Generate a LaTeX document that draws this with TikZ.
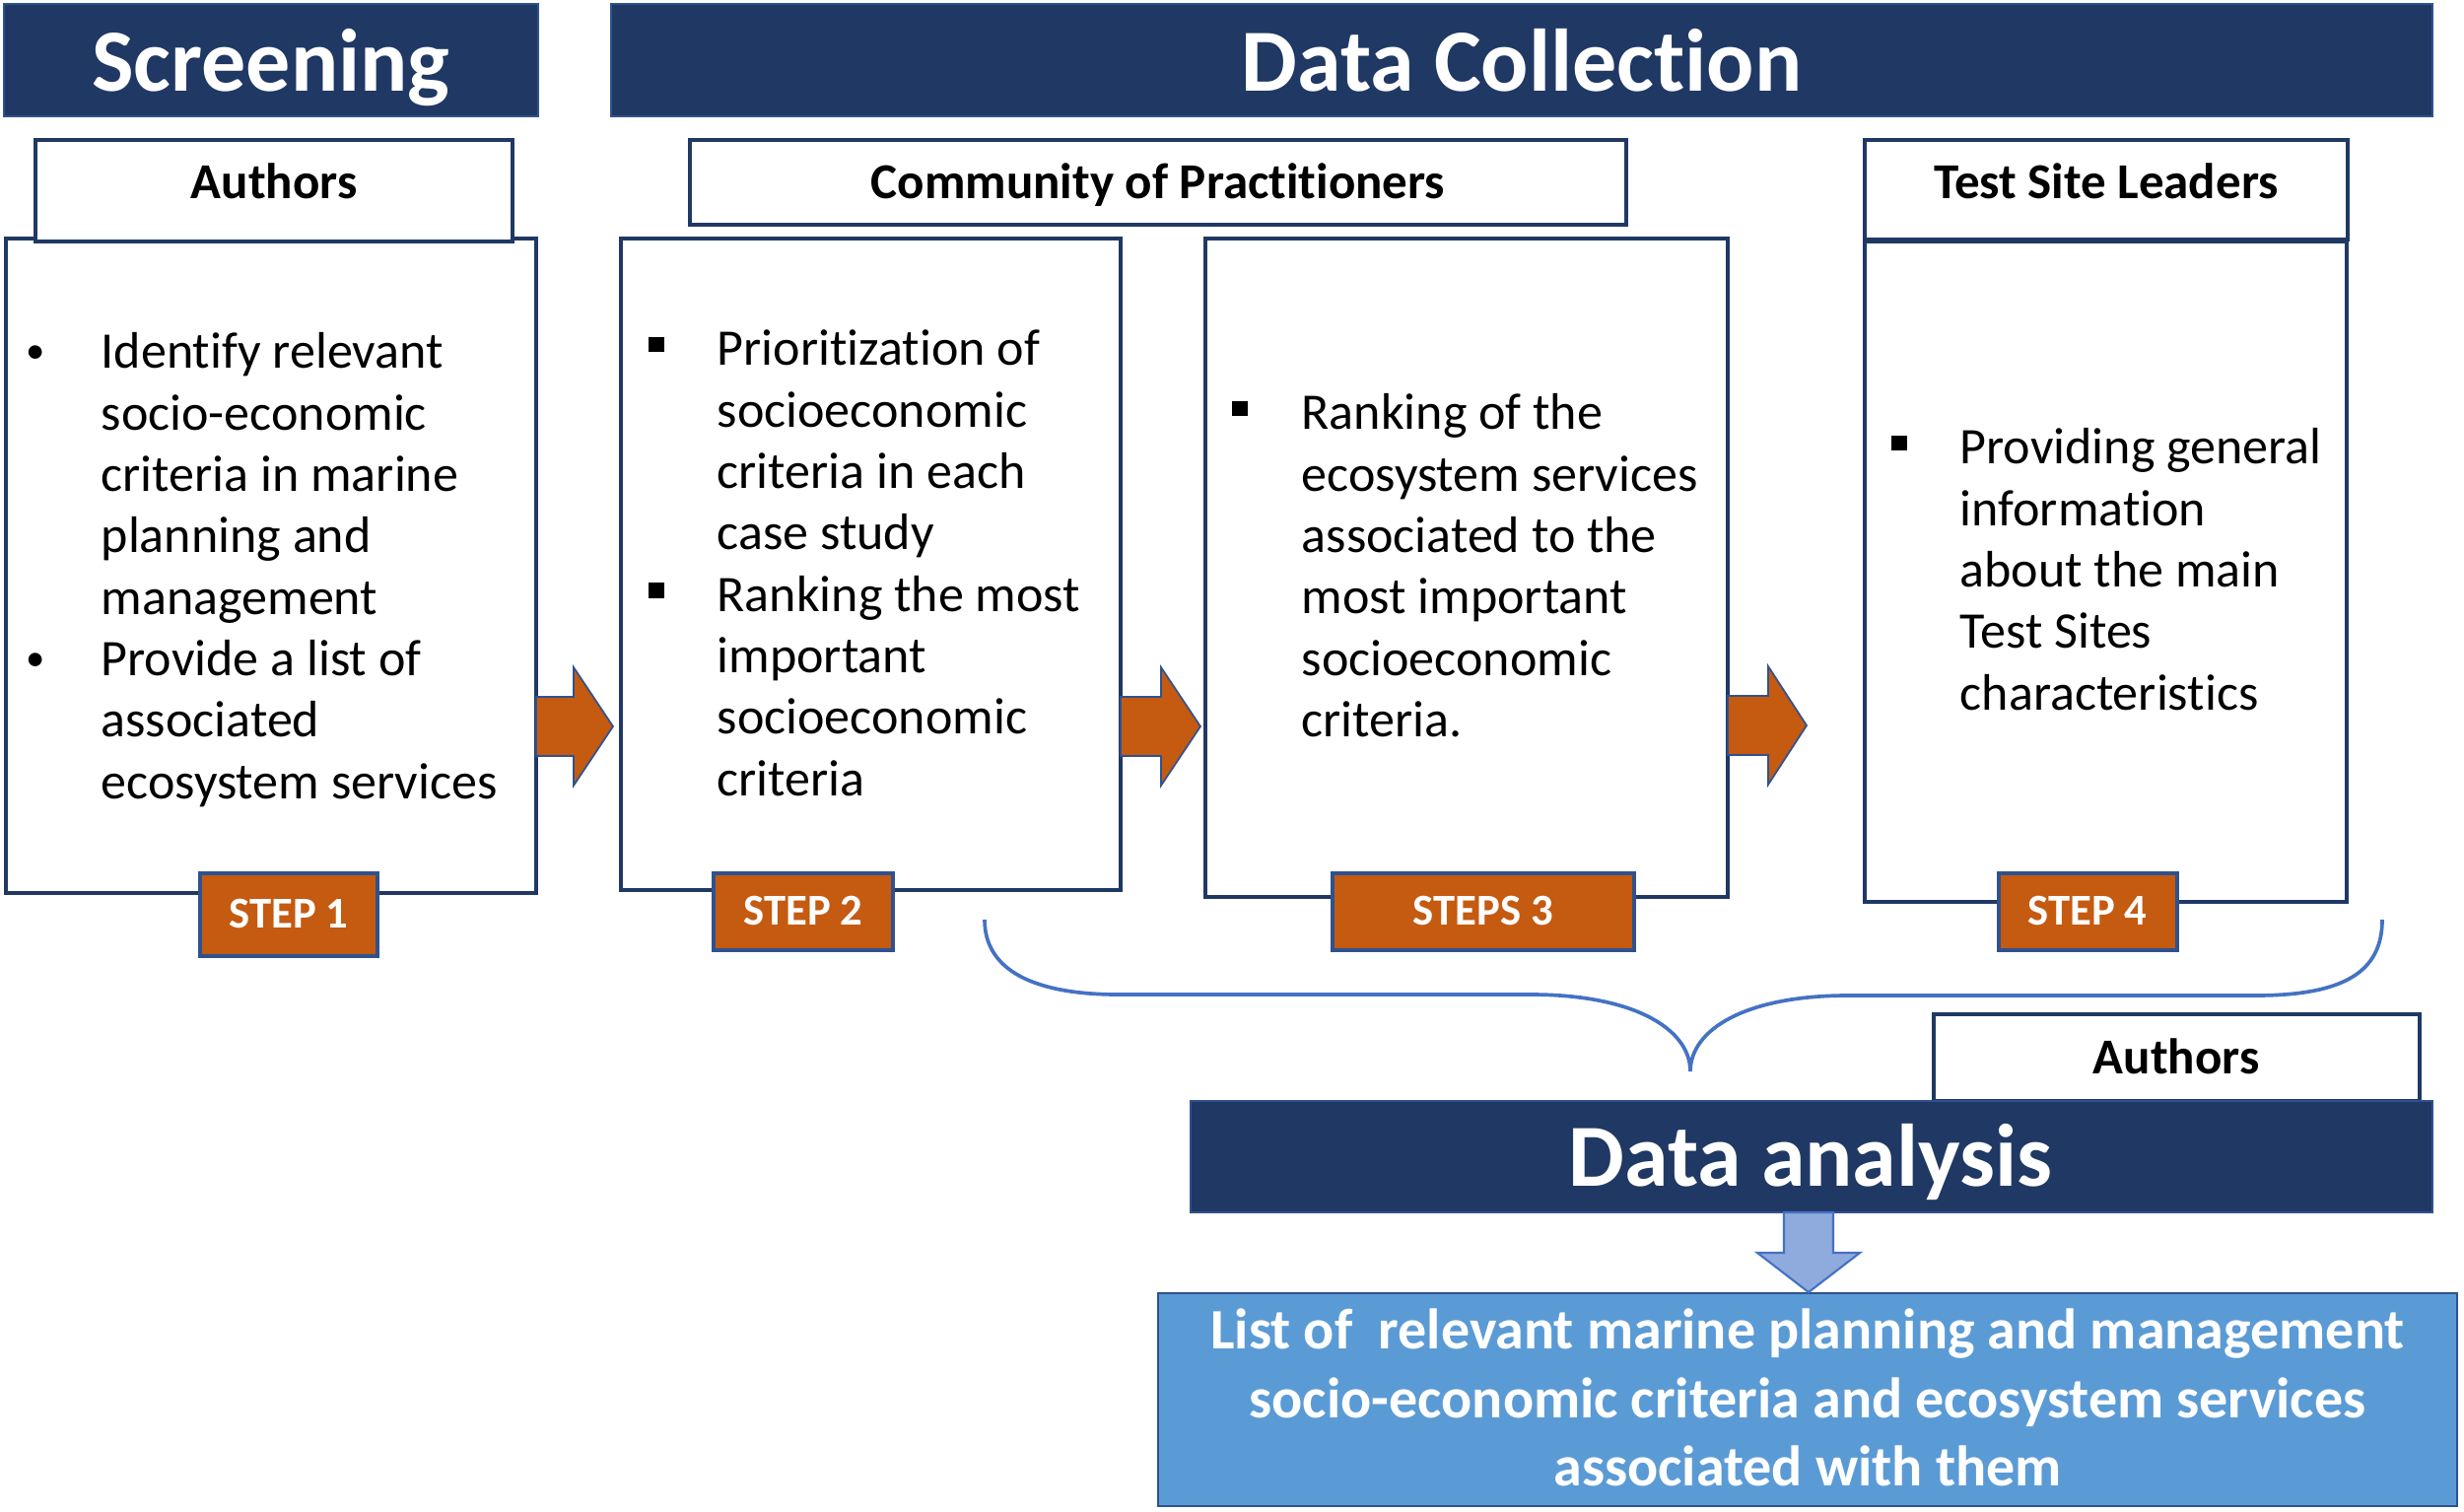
\documentclass[tikz,border=0pt]{standalone}
\usepackage{fontspec}
\setmainfont{Carlito}[Ligatures=NoCommon]
\usetikzlibrary{fit}
\definecolor{navy}{HTML}{203864}
\definecolor{edgeblue}{HTML}{2F528F}
\definecolor{orng}{HTML}{C55A11}
\definecolor{lblue}{HTML}{8FAADC}
\definecolor{midblue}{HTML}{4472C4}
\definecolor{boxblue}{HTML}{5B9BD5}
\tikzset{
  hdr/.style={fill=navy, draw=edgeblue, line width=0.6pt, inner sep=0pt},
  hdrtext/.style={anchor=base, inner sep=0pt, text=white,
    font=\bfseries\fontsize{25.6}{30}\selectfont},
  panel/.style={draw=navy, fill=white, line width=0.9pt, inner sep=0pt},
  rolelabel/.style={anchor=base, inner sep=0pt, font=\bfseries\fontsize{14.5}{17}\selectfont},
  stepbox/.style={fill=orng, draw=edgeblue, line width=0.9pt, inner sep=0pt},
  steptext/.style={anchor=base, inner sep=0pt, text=white,
    font=\bfseries\fontsize{12.7}{15}\selectfont},
  bodytext/.style={anchor=north west, inner sep=0pt, align=left,
    font=\fontsize{14.8}{17.73}\selectfont},
  bulletmark/.style={anchor=base, inner sep=0pt, font=\fontsize{14.8}{17.73}\selectfont},
  orangearrow/.style={fill=orng, draw=edgeblue, line width=0.5pt, line join=miter},
  downarrow/.style={fill=lblue, draw=midblue, line width=0.6pt, line join=miter},
  bracestyle/.style={draw=midblue, line width=1.05pt},
  resultbox/.style={fill=boxblue, draw=edgeblue, line width=0.8pt, inner sep=0pt},
}
\newcommand\sqb{\rule[3.6pt]{4.3pt}{4.3pt}}
\newcommand\rdb{\raisebox{1.4pt}{\fontsize{11}{13}\selectfont •}}
\newcommand\rblockarrow[4]{%
  \draw[orangearrow] (#1,#4-30) -- (#2,#4-30) -- (#2,#4-60) -- (#3,#4)
    -- (#2,#4+60) -- (#2,#4+30) -- (#1,#4+30) -- cycle;}
\begin{document}
\begin{tikzpicture}[x=0.01cm, y=-0.01cm]
\useasboundingbox (0,0) rectangle (2500,1533);

% headers
\node[hdr, fit={(4,4) (546,118)}] (screen) {};
\node[hdrtext] (screent) at (275,92) {Screening};
\node[hdr, fit={(620,4) (2468,118)}] (collect) {};
\node[hdrtext] (collectt) at (1544,92) {Data Collection};

% panels
\node[panel, fit={(6,242) (544,906)}] (b1) {};
\node[panel, fit={(630,242) (1137,903)}] (b2) {};
\node[panel, fit={(1223,242) (1753,910)}] (b3) {};
\node[panel, fit={(1892,245) (2381,915)}] (b4) {};

% role boxes
\node[panel, fit={(36,142) (520,245)}] (auth1) {};
\node[panel, fit={(700,142) (1650,228)}] (cop) {};
\node[panel, fit={(1892,142) (2382,243)}] (tsl) {};
\node[rolelabel] (auth1t) at (278,201) {Authors};
\node[rolelabel] (copt) at (1175,201) {Community of Practitioners};
\node[rolelabel] (tslt) at (2137,201) {Test Site Leaders};

% box texts
\node[bulletmark] (bu11) at (36,373) {\rdb};
\node[bulletmark] (bu12) at (36,685.3) {\rdb};
\node[bodytext] (t1) at (102,329.4) {\strut Identify relevant\\socio-economic\\criteria in marine\\planning and\\management\\Provide a list of\\associated\\ecosystem services};

\node[bulletmark] (bu21) at (666,370) {\sqb};
\node[bulletmark] (bu22) at (666,619.2) {\sqb};
\node[bodytext] (t2) at (727,326.4) {\strut Prioritization of\\socioeconomic\\criteria in each\\case study\\Ranking the most\\important\\socioeconomic\\criteria};

\node[bulletmark] (bu31) at (1258,435) {\sqb};
\node[bodytext] (t3) at (1320,391.4) {\strut Ranking of the\\ecosystem services\\associated to the\\most important\\socioeconomic\\criteria.};

\node[bulletmark] (bu41) at (1927,470) {\sqb};
\node[bodytext] (t4) at (1988,426.4) {\strut Providing general\\information\\about the main\\Test Sites\\characteristics};

% step labels
\node[stepbox, fit={(203,886) (383,970)}] (s1) {};
\node[steptext] (s1t) at (293,941) {STEP 1};
\node[stepbox, fit={(724,886) (906,964)}] (s2) {};
\node[steptext] (s2t) at (815,938) {STEP 2};
\node[stepbox, fit={(1352,886) (1658,964)}] (s3) {};
\node[steptext] (s3t) at (1505,938) {STEPS 3};
\node[stepbox, fit={(2028,886) (2209,964)}] (s4) {};
\node[steptext] (s4t) at (2118,938) {STEP 4};

% block arrows between panels
\rblockarrow{544}{582}{622}{737}
\rblockarrow{1137}{1178}{1218}{737}
\rblockarrow{1753}{1794}{1833}{736}

% brace
\coordinate (braceL) at (999,933);
\coordinate (braceTip) at (1715,1087);
\coordinate (braceR) at (2417,933);
\draw[bracestyle] (braceL) .. controls (999,985) and (1050,1009) .. (1135,1009)
  -- (1553,1009) .. controls (1660,1009) and (1715,1045) .. (braceTip)
  .. controls (1715,1045) and (1770,1010) .. (1875,1010)
  -- (2288,1010) .. controls (2380,1010) and (2417,985) .. (braceR);

% data analysis
\node[panel, fit={(1962,1029) (2455,1117)}] (auth2) {};
\node[rolelabel] (auth2t) at (2208,1089) {Authors};
\node[hdr, fit={(1208,1117) (2468,1230)}] (analysis) {};
\node[hdrtext] (analysist) at (1837,1203) {Data analysis};

% result
\node[resultbox, fit={(1175,1312) (2493,1528)}] (result) {};
\draw[downarrow] (1810,1230) -- (1810,1271) -- (1783,1271) -- (1835,1311)
  -- (1887,1271) -- (1860,1271) -- (1860,1230) -- cycle;
\node[anchor=north, inner sep=0pt, align=center, text=white,
  font=\bfseries\fontsize{16.5}{19.8}\selectfont] (resultt) at (1834,1319)
  {\strut List of \ relevant marine planning and management\\socio-economic criteria and ecosystem services\\associated with them};
\end{tikzpicture}
\end{document}
